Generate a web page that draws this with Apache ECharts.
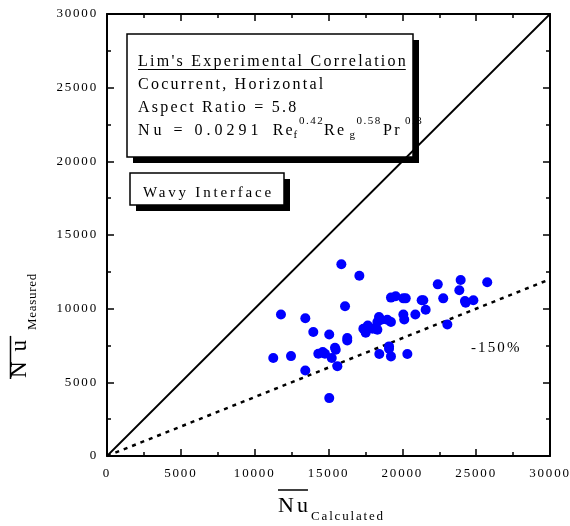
<!DOCTYPE html>
<html>
<head>
<meta charset="utf-8">
<script src="https://cdn.jsdelivr.net/npm/echarts@6/dist/echarts.min.js"></script>
<style>
html,body{margin:0;padding:0;background:#fff;}
#chart{width:570px;height:526px;}
</style>
</head>
<body>
<div id="chart"></div>
<script>
// ---------------- data ----------------
const axisTicks = [0, 5000, 10000, 15000, 20000, 25000, 30000];
const nuCalculated = [
  11260, 11780, 12460, 13430, 13970, 13430, 14310, 14610, 14760, 15050,
  15220, 15440, 15490, 15600, 15050, 15870, 16120, 16270, 16270, 17090,
  17360, 17520, 17660, 17990, 18310, 18420, 18310, 18560, 18980, 19230,
  18440, 19100, 19100, 19230, 20340, 19230, 19550, 20070, 20230, 20070,
  20130, 20880, 21310, 21420, 21580, 22400, 22770, 23050, 23950, 23860,
  24240, 24290, 24810, 25750
];
const nuMeasured = [
  6650, 9610, 6780, 9350, 8420, 5800, 6940, 7060, 6940, 8250,
  6650, 7350, 7210, 6100, 3930, 13010, 10160, 8010, 7840, 12230,
  8640, 8370, 8860, 8640, 8570, 9440, 9100, 9250, 9250, 9100,
  6920, 7440, 7280, 6760, 6920, 10750, 10840, 10700, 10700, 9610,
  9270, 9610, 10570, 10570, 9930, 11650, 10700, 8930, 11950, 11250,
  10520, 10410, 10570, 11790
];
const parityLine = [[0, 0], [30000, 30000]];      // Measured = Calculated
const minus150Line = [[0, 0], [30000, 12000]];    // -150 %
const boxLines = ["Lim's Experimental Correlation", "Cocurrent, Horizontal", "Aspect Ratio = 5.8"];
const wavyLabel = "Wavy Interface";
const offsetLabel = "-150%";

// ------------- letter spacing (old Mac Times look) -------------
const LS = 0.14;
const spacingOverride = { '16|Nu = 0.0291': 4, '15|Wavy Interface': 2.8, '23|Nu': 10, '13|Measured': 0.7 };
(function () {
  const P = CanvasRenderingContext2D.prototype;
  if (!('letterSpacing' in P)) return;
  const sp = (ctx, text) => {
    const m = /(\d+(?:\.\d+)?)px/.exec(ctx.font);
    if (!m) return '0px';
    const key = parseFloat(m[1]) + '|' + text;
    if (key in spacingOverride) return spacingOverride[key] + 'px';
    return (parseFloat(m[1]) * LS).toFixed(2) + 'px';
  };
  ['fillText', 'strokeText', 'measureText'].forEach(name => {
    const orig = P[name];
    P[name] = function (text) {
      const prev = this.letterSpacing;
      this.letterSpacing = sp(this, text);
      try { return orig.apply(this, arguments); }
      finally { this.letterSpacing = prev; }
    };
  });
})();

const FAM = "'Liberation Serif', 'Times New Roman', serif";
const mctx = document.createElement('canvas').getContext('2d');
function tw(str, px) { mctx.font = px + "px " + FAM; return mctx.measureText(str).width; }
function txt(str, x, y, px) {
  return {
    type: 'text', silent: true,
    style: { text: str, x: x, y: y, font: px + "px " + FAM, fill: '#000', textAlign: 'left', textVerticalAlign: 'middle' }
  };
}

const scatterData = nuCalculated.map((v, i) => [v, nuMeasured[i]]);

const axisCommon = {
  type: 'value', min: 0, max: 30000, interval: 5000,
  axisLine: { show: true, onZero: false, lineStyle: { color: '#000', width: 2 } },
  axisTick: { show: true, inside: true, length: 7, lineStyle: { color: '#000', width: 1.5 } },
  minorTick: { show: true, splitNumber: 2, length: 4, lineStyle: { color: '#000', width: 1.5 } },
  splitLine: { show: false },
  minorSplitLine: { show: false }
};
const labelOn = {
  show: true, color: '#000', fontFamily: FAM, fontSize: 13,
  formatter: v => (axisTicks.indexOf(v) >= 0 ? String(v) : '')
};

// ---------------- graphic annotations ----------------
const g = [];
// main box
g.push({ type: 'rect', silent: true, shape: { x: 133, y: 40, width: 286, height: 123 }, style: { fill: '#000' } });
g.push({ type: 'rect', silent: true, shape: { x: 127, y: 34, width: 286, height: 123 }, style: { fill: '#fff', stroke: '#000', lineWidth: 1.5 } });
g.push(txt(boxLines[0], 138, 61.5, 16));
const ulW = tw(boxLines[0], 16) - 16 * LS;
g.push({ type: 'line', silent: true, shape: { x1: 138, y1: 69.5, x2: 138 + ulW, y2: 69.5 }, style: { stroke: '#000', lineWidth: 1 } });
g.push(txt(boxLines[1], 138, 84.3, 16));
g.push(txt(boxLines[2], 138, 107.5, 16));
// Nu = 0.0291 Re_f^0.42 Re_g^0.58 Pr^0.3
const eqY = 130.6, subY = 135.5, supY = 121.5;
g.push(txt('Nu = 0.0291', 138, eqY, 16));
g.push(txt('Re', 272.7, eqY, 16));
g.push(txt('f', 293.5, subY, 11));
g.push(txt('0.42', 299, supY, 11));
g.push(txt('Re', 324, eqY, 16));
g.push(txt('g', 349.5, subY, 11));
g.push(txt('0.58', 356.5, supY, 11));
g.push(txt('Pr', 383, eqY, 16));
g.push(txt('0.3', 405, supY, 11));
// wavy interface box
g.push({ type: 'rect', silent: true, shape: { x: 136, y: 179, width: 154, height: 32 }, style: { fill: '#000' } });
g.push({ type: 'rect', silent: true, shape: { x: 130, y: 173, width: 154, height: 32 }, style: { fill: '#fff', stroke: '#000', lineWidth: 1.5 } });
g.push(txt(wavyLabel, 143, 193, 15));
// -150% label
g.push(txt(offsetLabel, 471, 348, 15));
// x axis title
const nuW = tw('Nu', 22);
g.push(txt('Nu', 278, 506.5, 22));
g.push({ type: 'line', silent: true, shape: { x1: 278, y1: 490, x2: 278 + nuW - 22 * LS, y2: 490 }, style: { stroke: '#000', lineWidth: 1.5 } });
g.push(txt('Calculated', 278 + nuW, 516.8, 13));
// y axis title (rotated)
const nuWy = tw('Nu', 23);
g.push({
  type: 'group', x: 28, y: 378, rotation: Math.PI / 2, silent: true,
  children: [
    txt('Nu', 0, -7.8, 23),
    { type: 'line', silent: true, shape: { x1: -1, y1: -17.5, x2: nuWy - 6, y2: -17.5 }, style: { stroke: '#000', lineWidth: 1.5 } },
    txt('Measured', nuWy, 4.6, 13)
  ]
});

const chart = echarts.init(document.getElementById('chart'), null, { renderer: 'canvas' });
chart.setOption({
  animation: false,
  backgroundColor: '#fff',
  grid: { left: 107, right: 20, top: 14, bottom: 70, containLabel: false, outerBoundsMode: 'none' },
  xAxis: [
    Object.assign({}, axisCommon, { position: 'bottom', axisLabel: Object.assign({}, labelOn, { margin: 10, showMaxLabel: true, showMinLabel: true, hideOverlap: false }) }),
    Object.assign({}, axisCommon, { position: 'top', axisLabel: { show: false } })
  ],
  yAxis: [
    Object.assign({}, axisCommon, { position: 'left', axisLabel: Object.assign({}, labelOn, { margin: 9, showMaxLabel: true, showMinLabel: true, hideOverlap: false }) }),
    Object.assign({}, axisCommon, { position: 'right', axisLabel: { show: false } })
  ],
  series: [
    {
      type: 'line', data: parityLine, xAxisIndex: 0, yAxisIndex: 0,
      showSymbol: false, symbol: 'none', silent: true, z: 2,
      lineStyle: { color: '#000', width: 1.8 }
    },
    {
      type: 'line', data: minus150Line, xAxisIndex: 0, yAxisIndex: 0,
      showSymbol: false, symbol: 'none', silent: true, z: 2,
      lineStyle: { color: '#000', width: 2.5, type: [4, 5] }
    },
    {
      type: 'scatter', data: scatterData, xAxisIndex: 0, yAxisIndex: 0,
      symbol: 'circle', symbolSize: 10, silent: true, z: 3,
      itemStyle: { color: '#0000ff', opacity: 1 }
    }
  ],
  graphic: { elements: g }
});
</script>
</body>
</html>
